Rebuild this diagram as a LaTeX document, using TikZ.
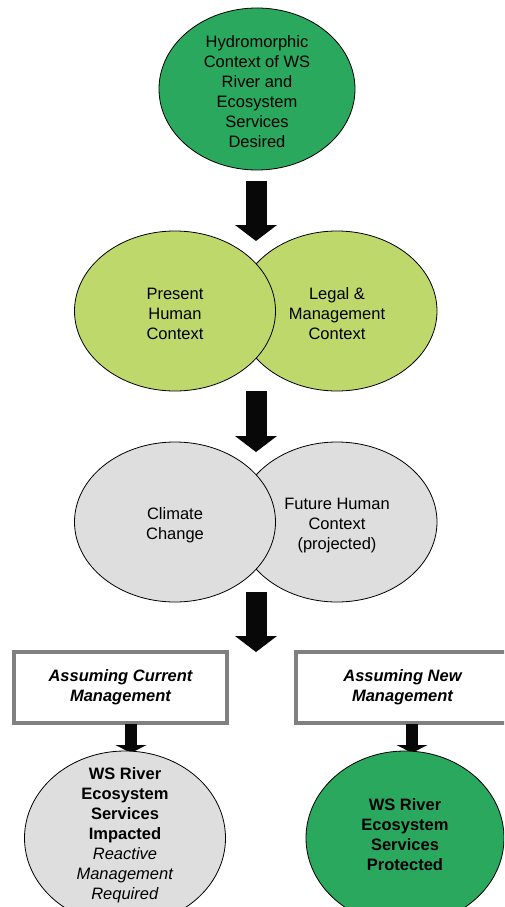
\documentclass[tikz,border=0pt]{standalone}
\usepackage{fontspec}
\setmainfont{Liberation Sans}
\usetikzlibrary{arrows.meta,shapes.geometric}
\definecolor{dkgreen}{RGB}{42,168,94}
\definecolor{ltgreen}{RGB}{191,216,108}
\definecolor{lgray}{RGB}{222,222,222}
\definecolor{boxgray}{RGB}{128,128,128}
\definecolor{arrowblack}{RGB}{8,8,8}
\newcommand{\topgap}{\rule{0pt}{18pt}}
\newcommand{\botgap}[1]{\rule[-#1]{0pt}{1pt}}
\begin{document}
\begin{tikzpicture}[x=1pt,y=-1pt,
  oval/.style={ellipse, draw=black, line width=0.8pt, inner xsep=0pt, inner ysep=-20pt,
    align=center, font=\fontsize{16.5}{20}\selectfont},
  blockarrow/.style={draw=arrowblack, line width=21pt,
    -{Triangle[width=42pt,length=16pt,line width=0pt]}},
  smallarrow/.style={draw=arrowblack, line width=12pt,
    -{Triangle[width=31pt,length=8pt,line width=0pt]}},
  mgmtbox/.style={rectangle, draw=boxgray, line width=4.5pt, fill=white,
    minimum height=71pt, inner sep=0pt, align=center,
    font=\fontsize{16.5}{20}\selectfont\bfseries\itshape}
]
\useasboundingbox (0,0) rectangle (504,907);
\clip (0,0) rectangle (504,907);

% top
\node[oval, fill=dkgreen, minimum width=196pt, minimum height=162pt] (hydro) at (257,89)
  {\topgap Hydromorphic\\Context of WS\\River and\\Ecosystem\\Services\\Desired};

% row 2
\node[oval, fill=ltgreen, minimum width=200pt, minimum height=160pt] (legal) at (337,311)
  {\topgap Legal \&\\Management\\Context};
\node[oval, fill=ltgreen, minimum width=201pt, minimum height=160pt] (present) at (175,311)
  {\topgap Present\\Human\\Context};

% row 3
\node[oval, fill=lgray, minimum width=200pt, minimum height=160pt] (future) at (337,522)
  {\topgap Future Human\\Context\\(projected)};
\node[oval, fill=lgray, minimum width=201pt, minimum height=160pt] (climate) at (175,522)
  {\topgap Climate\\Change};

% arrow end points
\coordinate (t1) at (256,241);
\coordinate (t2) at (256,452);
\coordinate (t3) at (256,652);
\coordinate (t4) at (131,753);
\coordinate (t5) at (412,753);

\draw[blockarrow] ([yshift=-11pt]hydro.south -| t1) -- (t1);
\draw[blockarrow] (present.south -| t2) -- (t2);
\draw[blockarrow] ([yshift=10pt]climate.south -| t3) -- (t3);

% bottom branches
\node[mgmtbox, minimum width=213pt] (curbox) at (120.5,687.5) {Assuming Current\\Management};
\node[mgmtbox, minimum width=227pt] (newbox) at (409.5,687.5)
  {\hspace*{-7pt}\begin{tabular}{@{}c@{}}Assuming New\\Management\end{tabular}\hspace*{7pt}};

\draw[smallarrow] ([yshift=1pt]curbox.south -| t4) -- (t4);
\draw[smallarrow] ([yshift=1pt]newbox.south -| t5) -- (t5);

\node[oval, fill=lgray, minimum width=201pt, minimum height=174pt] (impacted) at (125,838)
  {\textbf{WS River}\\\textbf{Ecosystem}\\\textbf{Services}\\\textbf{Impacted}\\\textit{Reactive}\\\textit{Management}\\\textit{Required}\botgap{9.5pt}};
\node[oval, fill=dkgreen, minimum width=198pt, minimum height=174pt] (protected) at (405,838)
  {\textbf{WS River}\\\textbf{Ecosystem}\\\textbf{Services}\\\textbf{Protected}\botgap{6pt}};
\end{tikzpicture}
\end{document}
